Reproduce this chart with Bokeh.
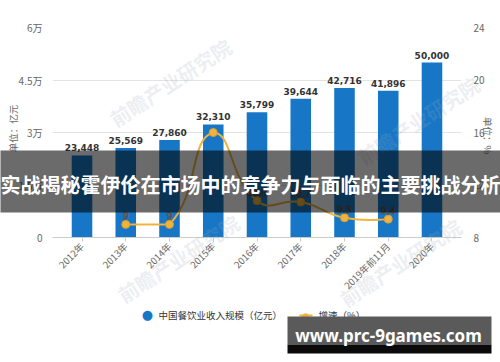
import math
from bokeh.plotting import figure
from bokeh.models import ColumnDataSource, FactorRange, Range1d, LinearAxis, FixedTicker
from bokeh.core.properties import value
from bokeh.embed import file_html
from bokeh.resources import INLINE

# ---------------- data ----------------
categories = ["2012年", "2013年", "2014年", "2015年", "2016年", "2017年", "2018年", "2019年前11月", "2020年"]
revenue = [23448, 25569, 27860, 32310, 35799, 39644, 42716, 41896, 50000]
growth = [None, 9, 9, 16.0, 10.8, 10.7, 9.5, 9.4, None]
growth_labels = ["", "9", "9", "", "10.8", "10.7", "9.5", "9.4", ""]
left_ticks = [0, 15000, 30000, 45000, 60000]
left_tick_labels = ["0", "1.5万", "3万", "4.5万", "6万"]
right_ticks = [8, 12, 16, 20, 24]
series_names = ["中国餐饮业收入规模（亿元）", "增速（%）"]
axis_titles = ["单位：亿元", "单位：%"]
banner_text = "实战揭秘霍伊伦在市场中的竞争力与面临的主要挑战分析"
site_text = "www.prc-9games.com"
watermark = "前瞻产业研究院"

BAR = "#1777C6"
GOLD = "#EFB33E"
CJK = "Noto Sans CJK SC"
GRAY = "#666666"

W, H = 500, 362
FL, FR, FT, FB = 52, 461, 27, 237          # frame edges in pixels
PADF = 0.0388
p = figure(width=W, height=H,
           x_range=FactorRange(*categories, range_padding=PADF),
           y_range=Range1d(0, 60000),
           output_backend="svg", toolbar_location=None,
           min_border_left=FL, min_border_right=W - FR, min_border_top=FT, min_border_bottom=H - FB)
p.outline_line_color = None
p.background_fill_color = "white"
p.border_fill_color = "white"

# pixel -> data helpers (for decorations only)
PAD = PADF * len(categories) / 2
UX = (FR - FL) / (len(categories) + 2 * PAD)
def dx(px): return -PAD + (px - FL) / UX
def dy(py): return (FB - py) * 60000 / (FB - FT)

# left axis
ya = p.yaxis[0]
ya.ticker = FixedTicker(ticks=left_ticks)
ya.major_label_overrides = {t: l for t, l in zip(left_ticks, left_tick_labels)}
ya.axis_line_color = None
ya.major_tick_line_color = None
ya.minor_tick_line_color = None
ya.major_label_standoff = 4
ya.major_label_text_color = GRAY
ya.major_label_text_font = CJK
ya.major_label_text_font_size = "10px"

p.ygrid.ticker = FixedTicker(ticks=left_ticks)
p.ygrid.grid_line_color = "#e3e3e3"
p.xgrid.visible = False

# right axis
p.extra_y_ranges = {"right": Range1d(8, 24)}
ra = LinearAxis(y_range_name="right", ticker=FixedTicker(ticks=right_ticks))
ra.axis_line_color = None
ra.major_tick_line_color = None
ra.minor_tick_line_color = None
ra.major_label_standoff = 6
ra.major_label_text_color = GRAY
ra.major_label_text_font = CJK
ra.major_label_text_font_size = "10px"
p.add_layout(ra, "right")

# x axis
xa = p.xaxis[0]
xa.axis_line_color = "#cccccc"
xa.major_tick_line_color = "#cccccc"
xa.major_tick_out = 4
xa.major_tick_in = 0
xa.major_label_orientation = math.pi / 4
xa.major_label_text_color = GRAY
xa.major_label_text_font = CJK
xa.major_label_text_font_size = "9.5px"
xa.major_label_standoff = 3

# bars
src = ColumnDataSource(dict(cat=categories, rev=revenue, lbl=[f"{v:,}" for v in revenue]))
p.vbar(x="cat", top="rev", width=0.47, source=src, fill_color=BAR, line_color=None)
p.text(x="cat", y="rev", text="lbl", source=src, y_offset=-4,
       text_align="center", text_baseline="bottom", text_color="#333333",
       text_font=value("DejaVu Sans"), text_font_style="bold", text_font_size="9px")

# growth line (smoothed bezier through the points, echarts-like)
idx = [i for i, g in enumerate(growth) if g is not None]
SX, SY = UX, (FB - FT) / 16.0
pts = [(i * SX, (growth[i] - 8) * SY) for i in idx]
minx = min(q[0] for q in pts); maxx = max(q[0] for q in pts)
miny = min(q[1] for q in pts); maxy = max(q[1] for q in pts)
smooth = 0.5
cps = []
for k, pt in enumerate(pts):
    if k == 0 or k == len(pts) - 1:
        cps.append(pt)
        continue
    prv, nxt = pts[k - 1], pts[k + 1]
    vx, vy = (nxt[0] - prv[0]) * smooth, (nxt[1] - prv[1]) * smooth
    d0 = math.hypot(pt[0] - prv[0], pt[1] - prv[1])
    d1 = math.hypot(pt[0] - nxt[0], pt[1] - nxt[1])
    s = d0 + d1
    if s:
        d0 /= s; d1 /= s
    c0 = [pt[0] - vx * d0, pt[1] - vy * d0]
    c1 = [pt[0] + vx * d1, pt[1] + vy * d1]
    for c in (c0, c1):
        c[0] = min(max(c[0], minx), maxx)
        c[1] = min(max(c[1], miny), maxy)
    cps.append(tuple(c0)); cps.append(tuple(c1))

def tx(px): return px / SX + 0.5
def ty(py): return py / SY + 8

bz = dict(x0=[], y0=[], x1=[], y1=[], cx0=[], cy0=[], cx1=[], cy1=[])
for k in range(len(pts) - 1):
    a, b = pts[k], pts[k + 1]
    c0, c1 = cps[2 * k], cps[2 * k + 1]
    bz["x0"].append(tx(a[0])); bz["y0"].append(ty(a[1]))
    bz["x1"].append(tx(b[0])); bz["y1"].append(ty(b[1]))
    bz["cx0"].append(tx(c0[0])); bz["cy0"].append(ty(c0[1]))
    bz["cx1"].append(tx(c1[0])); bz["cy1"].append(ty(c1[1]))
p.bezier(source=ColumnDataSource(bz), x0="x0", y0="y0", x1="x1", y1="y1",
         cx0="cx0", cy0="cy0", cx1="cx1", cy1="cy1",
         line_color=GOLD, line_width=2, y_range_name="right")

gsrc = ColumnDataSource(dict(cat=[categories[i] for i in idx], g=[growth[i] for i in idx],
                             lbl=[growth_labels[i] for i in idx]))
p.scatter(x="cat", y="g", source=gsrc, size=8, fill_color=GOLD, line_color="#d9a030",
          line_width=1, y_range_name="right")
gl = p.text(x="cat", y="g", text="lbl", source=gsrc, y_offset=-5, y_range_name="right",
            text_align="center", text_baseline="bottom", text_color="#f2f2f2",
            text_font=value("DejaVu Sans"), text_font_size="9px")
try:
    gl.glyph.text_outline_color = "#555555"
except Exception:
    pass

# watermarks
wm = dict(x=[dx(170), dx(178), dx(400), dx(418)], y=[dy(82), dy(258), dy(262), dy(120)])
p.text(x="x", y="y", source=ColumnDataSource(wm), text=value(watermark), angle=0.58,
       text_align="center", text_baseline="middle", text_color="#9aa8bd", text_alpha=0.2,
       text_font=value(CJK), text_font_style="bold", text_font_size="20px", level="annotation")

# axis titles
p.text(x=[dx(13)], y=[dy(128)], text=[axis_titles[0]], angle=math.pi / 2,
       text_align="center", text_baseline="middle", text_color=GRAY,
       text_font=value(CJK), text_font_size="9.5px", level="annotation")
p.text(x=[dx(487)], y=[dy(135)], text=[axis_titles[1]], angle=-math.pi / 2,
       text_align="center", text_baseline="middle", text_color=GRAY,
       text_font=value(CJK), text_font_size="9.5px", level="annotation")

# legend
p.text(x=[dx(147)], y=[dy(314)], text=["●"], text_align="center", text_baseline="middle",
       text_color=BAR, text_font=value("DejaVu Sans"), text_font_size="13px", level="annotation")
p.text(x=[dx(158)], y=[dy(314)], text=[series_names[0]], text_align="left", text_baseline="middle",
       text_color="#333333", text_font=value(CJK), text_font_size="9.5px", level="annotation")
p.segment(x0=[dx(299)], y0=[dy(315)], x1=[dx(312)], y1=[dy(315)], line_color=GOLD, line_width=2,
          level="annotation")
p.text(x=[dx(305.5)], y=[dy(315)], text=["●"], text_align="center", text_baseline="middle",
       text_color=GOLD, text_font=value("DejaVu Sans"), text_font_size="9px", level="annotation")
p.text(x=[dx(318)], y=[dy(314)], text=[series_names[1]], text_align="left", text_baseline="middle",
       text_color="#333333", text_font=value(CJK), text_font_size="9.5px", level="annotation")

# overlay banner
p.quad(left=[dx(0)], right=[dx(500)], top=[dy(150)], bottom=[dy(212)],
       fill_color="black", fill_alpha=0.58, line_color=None, level="overlay")
p.text(x=[dx(250)], y=[dy(184)], text=[banner_text], text_align="center", text_baseline="middle",
       text_color="white", text_font=value(CJK), text_font_style="bold", text_font_size="20px",
       level="overlay")

# bottom site banner
p.quad(left=[dx(287)], right=[dx(491)], top=[dy(316)], bottom=[dy(344)],
       fill_color="#5a5a5a", line_color=None, level="overlay")
p.quad(left=[dx(287)], right=[dx(491)], top=[dy(344)], bottom=[dy(353)],
       fill_color="#0a0a0a", line_color=None, level="overlay")
p.text(x=[dx(388)], y=[dy(335)], text=[site_text], text_align="center", text_baseline="middle",
       text_color="white", text_font=value("Noto Sans"), text_font_style="bold", text_font_size="17px",
       level="overlay")

open("out.html", "w").write(file_html(p, INLINE))
